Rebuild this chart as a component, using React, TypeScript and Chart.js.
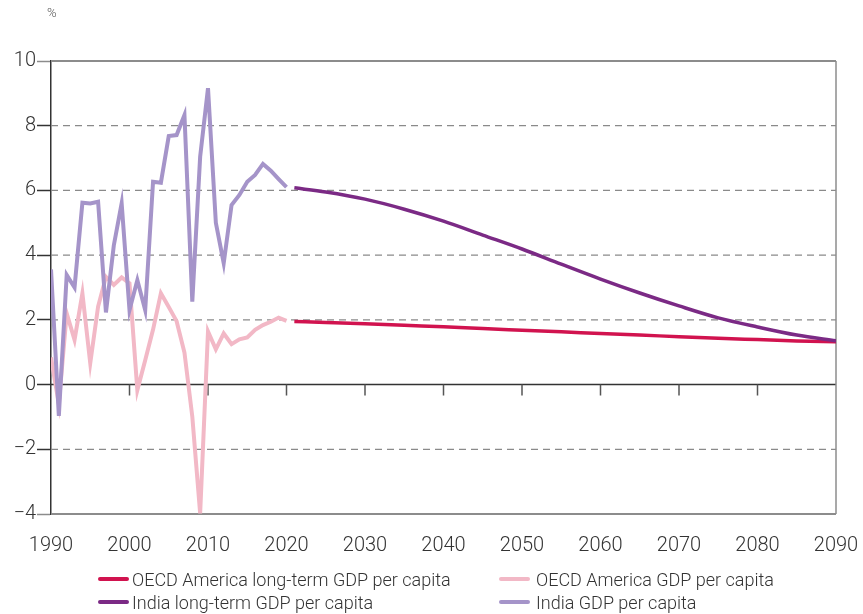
import React, { useEffect, useRef } from "react";
import { Chart, registerables } from "chart.js";

Chart.register(...registerables);

const YEARS_HIST = [
  1990, 1991, 1992, 1993, 1994, 1995, 1996, 1997, 1998, 1999,
  2000, 2001, 2002, 2003, 2004, 2005, 2006, 2007, 2008, 2009,
  2010, 2011, 2012, 2013, 2014, 2015, 2016, 2017, 2018, 2019, 2020,
];
const INDIA_GDP = [
  3.56, -0.97, 3.39, 3.0, 5.62, 5.6, 5.65, 2.23, 4.3, 5.6,
  2.3, 3.23, 2.3, 6.27, 6.24, 7.68, 7.71, 8.33, 2.56, 7.04,
  9.16, 5.0, 3.75, 5.55, 5.86, 6.27, 6.48, 6.82, 6.61, 6.35, 6.1,
];
const OECD_AMERICA_GDP = [
  0.84, -0.6, 2.2, 1.38, 2.82, 0.66, 2.41, 3.33, 3.08, 3.31,
  3.13, -0.17, 0.75, 1.7, 2.82, 2.4, 1.96, 0.99, -0.99, -3.98,
  1.64, 1.09, 1.58, 1.25, 1.4, 1.46, 1.69, 1.84, 1.94, 2.07, 1.97,
];
const YEARS_LT = [
  2021, 2025, 2030, 2035, 2040, 2045, 2050, 2055, 2060, 2065, 2070, 2075, 2080, 2085, 2090,
];
const INDIA_LT = [
  6.08, 5.95, 5.73, 5.42, 5.05, 4.62, 4.19, 3.72, 3.26, 2.83, 2.43, 2.06, 1.78, 1.53, 1.35,
];
const OECD_AMERICA_LT = [
  1.95, 1.92, 1.88, 1.83, 1.79, 1.73, 1.68, 1.63, 1.58, 1.53, 1.48, 1.43, 1.39, 1.35, 1.32,
];
const X_TICKS = [1990, 2000, 2010, 2020, 2030, 2040, 2050, 2060, 2070, 2080, 2090];
const Y_TICKS = [-4, -2, 0, 2, 4, 6, 8, 10];

const COLORS = {
  oecdLT: "#d1134f",
  oecd: "#f2b8c6",
  indiaLT: "#7b2a85",
  india: "#a594c9",
};

const LEGEND = [
  { label: "OECD America long-term GDP per capita", color: COLORS.oecdLT, col: 0, row: 0 },
  { label: "OECD America GDP per capita", color: COLORS.oecd, col: 1, row: 0 },
  { label: "India long-term GDP per capita", color: COLORS.indiaLT, col: 0, row: 1 },
  { label: "India GDP per capita", color: COLORS.india, col: 1, row: 1 },
];

const FONT = "Roboto, 'Liberation Sans', sans-serif";
const TEXT = "#333333";

const pts = (xs: number[], ys: number[]) => xs.map((x, i) => ({ x, y: ys[i] }));

const gridPlugin = {
  id: "customGrid",
  beforeDatasetsDraw(chart: any) {
    const { ctx, chartArea, scales } = chart;
    const y = scales.y;
    const x = scales.x;
    ctx.save();
    for (const v of Y_TICKS) {
      const py = y.getPixelForValue(v);
      ctx.beginPath();
      if (v === 10 || v === -4) {
        ctx.strokeStyle = "#8c8c8c";
        ctx.lineWidth = 2;
        ctx.setLineDash([]);
      } else if (v === 0) {
        ctx.strokeStyle = "#333333";
        ctx.lineWidth = 1.5;
        ctx.setLineDash([]);
      } else {
        ctx.strokeStyle = "#8a8a8a";
        ctx.lineWidth = 1.3;
        ctx.setLineDash([7, 5]);
      }
      ctx.moveTo(chartArea.left, py);
      ctx.lineTo(chartArea.right, py);
      ctx.stroke();
    }
    ctx.setLineDash([]);
    ctx.beginPath();
    ctx.strokeStyle = "#8c8c8c";
    ctx.lineWidth = 1.5;
    ctx.moveTo(chartArea.right, y.getPixelForValue(10));
    ctx.lineTo(chartArea.right, y.getPixelForValue(-4));
    ctx.stroke();
    const p0 = y.getPixelForValue(0);
    ctx.beginPath();
    ctx.strokeStyle = "#555555";
    ctx.lineWidth = 1.5;
    for (const t of X_TICKS) {
      if (t === X_TICKS[0] || t === X_TICKS[X_TICKS.length - 1]) continue;
      const px = x.getPixelForValue(t);
      ctx.moveTo(px, p0);
      ctx.lineTo(px, p0 + 11);
    }
    ctx.stroke();
    ctx.restore();
  },
};

export default function App() {
  const ref = useRef<HTMLCanvasElement | null>(null);
  useEffect(() => {
    if (!ref.current) return;
    const chart = new Chart(ref.current, {
      type: "line",
      data: {
        datasets: [
          {
            label: "India GDP per capita",
            data: pts(YEARS_HIST, INDIA_GDP),
            borderColor: COLORS.india,
            borderWidth: 4,
            pointRadius: 0,
            tension: 0,
            order: 1,
          },
          {
            label: "OECD America GDP per capita",
            data: pts(YEARS_HIST, OECD_AMERICA_GDP),
            borderColor: COLORS.oecd,
            borderWidth: 4,
            pointRadius: 0,
            tension: 0,
            order: 2,
          },
          {
            label: "India long-term GDP per capita",
            data: pts(YEARS_LT, INDIA_LT),
            borderColor: COLORS.indiaLT,
            borderWidth: 3.5,
            pointRadius: 0,
            cubicInterpolationMode: "monotone",
            order: 3,
          },
          {
            label: "OECD America long-term GDP per capita",
            data: pts(YEARS_LT, OECD_AMERICA_LT),
            borderColor: COLORS.oecdLT,
            borderWidth: 3.5,
            pointRadius: 0,
            cubicInterpolationMode: "monotone",
            order: 4,
          },
        ],
      },
      options: {
        animation: false,
        responsive: false,
        maintainAspectRatio: false,
        layout: { padding: { top: 61, right: 27, left: 0, bottom: 0 } },
        plugins: { legend: { display: false }, tooltip: { enabled: false } },
        scales: {
          x: {
            type: "linear",
            min: 1990,
            max: 2090,
            afterBuildTicks: (s: any) => {
              s.ticks = X_TICKS.map((v) => ({ value: v }));
            },
            ticks: {
              callback: (v: any) => String(v),
              font: { family: FONT, size: 20, weight: "300" },
              color: TEXT,
              padding: 12,
              maxRotation: 0,
              autoSkip: false,
            },
            grid: { display: false },
            border: { display: false },
            afterFit: (s: any) => {
              s.height = 100;
              s.paddingLeft = 0;
              s.paddingRight = 0;
            },
          },
          y: {
            min: -4,
            max: 10,
            afterBuildTicks: (s: any) => {
              s.ticks = Y_TICKS.map((v) => ({ value: v }));
            },
            ticks: {
              callback: (v: any) => (v < 0 ? "\u2212" + Math.abs(v) : String(v)),
              font: { family: FONT, size: 20, weight: "300" },
              color: TEXT,
              padding: 1,
            },
            grid: {
              drawOnChartArea: false,
              drawTicks: true,
              tickLength: 14,
              tickWidth: 1.5,
              tickColor: (c: any) =>
                c.tick && (c.tick.value === 10 || c.tick.value === -4) ? "#8c8c8c" : "#333333",
            },
            border: { color: "#333333", width: 1.5 },
            afterFit: (s: any) => {
              s.width = 51;
              s.paddingTop = 0;
              s.paddingBottom = 0;
            },
          },
        },
      },
      plugins: [gridPlugin],
    } as any);
    return () => chart.destroy();
  }, []);

  return (
    <div
      style={{
        position: "fixed",
        left: 0,
        top: 0,
        width: 863,
        height: 614,
        background: "#ffffff",
        fontFamily: FONT,
      }}
    >
      <canvas
        ref={ref}
        width={863}
        height={614}
        style={{ position: "absolute", left: 0, top: 0, width: 863, height: 614 }}
      />
      <div
        style={{
          position: "absolute",
          left: 47,
          top: 5,
          fontSize: 13,
          fontWeight: 300,
          color: "#555",
        }}
      >
        %
      </div>
      {LEGEND.map((l) => (
        <div
          key={l.label}
          style={{
            position: "absolute",
            left: l.col === 0 ? 98 : 499,
            top: l.row === 0 ? 568 : 591,
            height: 22,
            display: "flex",
            alignItems: "center",
            whiteSpace: "nowrap",
            fontSize: 18,
            fontWeight: 300,
            color: TEXT,
          }}
        >
          <span
            style={{
              display: "inline-block",
              width: 31,
              height: 4,
              borderRadius: 2,
              background: l.color,
              marginRight: l.col === 0 ? 3 : 6,
            }}
          />
          <span>{l.label}</span>
        </div>
      ))}
    </div>
  );
}
